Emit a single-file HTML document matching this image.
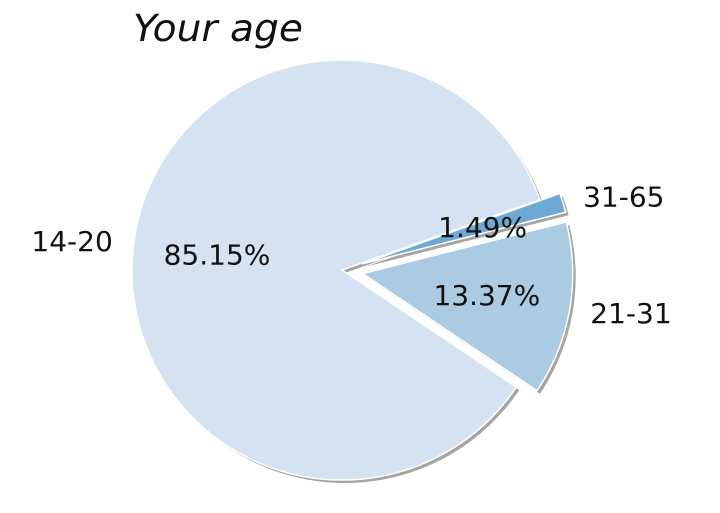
<!DOCTYPE html>
<html><head><meta charset="utf-8"><style>
body{margin:0;background:#fff;}
text{font-family:"DejaVu Sans","Liberation Sans",sans-serif;}
</style></head><body>
<svg id="chart" width="720" height="508" viewBox="0 0 720 508">
<text x="133" y="41" font-size="37" font-style="italic" fill="#111" textLength="170" lengthAdjust="spacingAndGlyphs">Your age</text>
<g id="shadows"></g><g id="slices"></g><g id="labels"></g>
</svg>
<script>
const categories = ["21-31", "31-65", "14-20"];
const values = [13.37, 1.49, 85.15];
const explode = [0.1, 0.1, 0];
const colors = ["#aacbe1", "#6ea8d3", "#d4e2f1"];
const startAngle = -33.9;
const cx = 342, cy = 270, R = 210;
const NS = "http://www.w3.org/2000/svg";
const total = values.reduce((a,b)=>a+b,0);
let ang = startAngle;
function pt(x,y,r,a){const t=a*Math.PI/180;return [x+r*Math.cos(t), y-r*Math.sin(t)];}
function arcPath(x,y,a0,a1){
  const p0=pt(x,y,R,a0), p1=pt(x,y,R,a1), large=(a1-a0)>180?1:0;
  return `M${x},${y} L${p0[0]},${p0[1]} A${R},${R} 0 ${large} 0 ${p1[0]},${p1[1]} Z`;
}
const sh=document.getElementById('shadows'), sl=document.getElementById('slices'), lb=document.getElementById('labels');
values.forEach((v,i)=>{
  const span=v/total*360, a0=ang, a1=ang+span, mid=(a0+a1)/2;
  ang=a1;
  const [ox,oy]=pt(cx,cy,explode[i]*R,mid);
  const s=document.createElementNS(NS,'path');
  s.setAttribute('d',arcPath(ox+3,oy+3,a0,a1));
  s.setAttribute('fill','#8f8f8f');
  s.setAttribute('opacity','0.8');
  
  
  sh.appendChild(s);
  const p=document.createElementNS(NS,'path');
  p.setAttribute('d',arcPath(ox,oy,a0,a1));
  p.setAttribute('fill',colors[i]);
  p.setAttribute('stroke','#fff');
  p.setAttribute('stroke-width','1.5');
  
  
  sl.appendChild(p);
  const [lx,ly]=pt(ox,oy,1.1*R,mid);
  const t=document.createElementNS(NS,'text');
  t.textContent=categories[i];
  t.setAttribute('x',lx);t.setAttribute('y',ly+10);
  t.setAttribute('font-size','28');t.setAttribute('fill','#111');
  t.setAttribute('text-anchor',Math.cos(mid*Math.PI/180)>0?'start':'end');
  
  
  lb.appendChild(t);
  const [px,py]=pt(ox,oy,0.6*R,mid);
  const q=document.createElementNS(NS,'text');
  q.textContent=v.toFixed(2)+'%';
  q.setAttribute('x',px);q.setAttribute('y',py+10);
  q.setAttribute('font-size','28');q.setAttribute('fill','#111');
  q.setAttribute('text-anchor','middle');
  
  
  lb.appendChild(q);
});
</script>
</body></html>
